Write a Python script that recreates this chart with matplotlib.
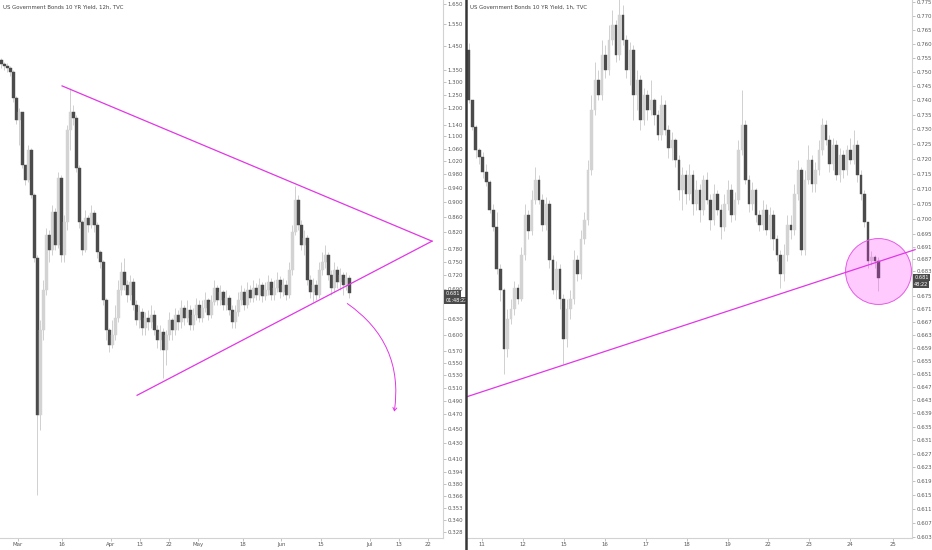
import matplotlib
matplotlib.use("Agg")
import matplotlib.pyplot as plt
from matplotlib.lines import Line2D
from matplotlib.patches import FancyArrowPatch
from matplotlib.ticker import NullLocator

# ---- left panel: 12h candles (open of each bar = previous close) ----
left_open0 = 1.390
left_close = [
    1.373, 1.364, 1.356, 1.340, 1.237, 1.157, 1.186, 1.008, 0.963, 1.055,
    0.920, 0.758, 0.469, 0.608, 0.688, 0.813, 0.777, 0.873, 0.789, 0.969,
    0.765, 0.847, 1.122, 1.186, 1.164, 0.999, 0.847, 0.777, 0.857, 0.839,
    0.870, 0.839, 0.772, 0.749, 0.667, 0.608, 0.581, 0.599, 0.631, 0.688,
    0.727, 0.698, 0.678, 0.705, 0.657, 0.627, 0.643, 0.612, 0.631, 0.623,
    0.637, 0.608, 0.590, 0.604, 0.572, 0.599, 0.627, 0.608, 0.637, 0.623,
    0.651, 0.631, 0.647, 0.617, 0.637, 0.657, 0.631, 0.651, 0.667, 0.637,
    0.663, 0.692, 0.667, 0.684, 0.657, 0.671, 0.647, 0.623, 0.643, 0.667,
    0.684, 0.657, 0.688, 0.671, 0.692, 0.678, 0.698, 0.676, 0.688, 0.705,
    0.678, 0.692, 0.709, 0.684, 0.698, 0.678, 0.731, 0.821, 0.906, 0.839,
    0.789, 0.806, 0.709, 0.684, 0.698, 0.678, 0.731, 0.749, 0.765, 0.720,
    0.692, 0.731, 0.705, 0.720, 0.698, 0.713, 0.681,
]
left_high = [
    1.399, 1.382, 1.377, 1.364, 1.348, 1.245, 1.200, 1.186, 1.008, 1.071,
    1.061, 0.925, 0.766, 0.627, 0.709, 0.831, 0.826, 0.892, 0.883, 0.987,
    0.978, 0.865, 1.139, 1.276, 1.211, 1.175, 1.008, 0.852, 0.878, 0.865,
    0.892, 0.878, 0.847, 0.777, 0.754, 0.671, 0.612, 0.627, 0.657, 0.709,
    0.749, 0.758, 0.709, 0.720, 0.713, 0.667, 0.657, 0.651, 0.643, 0.647,
    0.657, 0.647, 0.617, 0.617, 0.612, 0.608, 0.643, 0.631, 0.651, 0.647,
    0.667, 0.657, 0.667, 0.657, 0.651, 0.671, 0.667, 0.667, 0.684, 0.671,
    0.678, 0.709, 0.698, 0.698, 0.688, 0.688, 0.678, 0.657, 0.657, 0.684,
    0.698, 0.692, 0.705, 0.698, 0.709, 0.702, 0.713, 0.705, 0.705, 0.720,
    0.713, 0.709, 0.727, 0.718, 0.713, 0.709, 0.749, 0.839, 0.945, 0.920,
    0.852, 0.826, 0.813, 0.720, 0.713, 0.709, 0.749, 0.772, 0.789, 0.772,
    0.731, 0.749, 0.740, 0.736, 0.727, 0.727, 0.720,
]
left_low = [
    1.356, 1.348, 1.340, 1.324, 1.222, 1.143, 1.071, 0.999, 0.948, 0.957,
    0.911, 0.749, 0.367, 0.448, 0.590, 0.678, 0.749, 0.765, 0.777, 0.782,
    0.749, 0.749, 0.826, 1.055, 1.139, 0.987, 0.831, 0.765, 0.772, 0.821,
    0.831, 0.821, 0.758, 0.736, 0.657, 0.590, 0.568, 0.575, 0.590, 0.623,
    0.678, 0.688, 0.663, 0.667, 0.647, 0.617, 0.612, 0.599, 0.599, 0.608,
    0.612, 0.599, 0.575, 0.572, 0.525, 0.547, 0.590, 0.590, 0.599, 0.608,
    0.612, 0.617, 0.623, 0.608, 0.608, 0.627, 0.623, 0.623, 0.643, 0.627,
    0.631, 0.657, 0.657, 0.657, 0.647, 0.647, 0.637, 0.612, 0.612, 0.635,
    0.657, 0.647, 0.651, 0.663, 0.663, 0.667, 0.667, 0.663, 0.667, 0.678,
    0.667, 0.667, 0.684, 0.671, 0.676, 0.667, 0.671, 0.720, 0.813, 0.826,
    0.777, 0.765, 0.698, 0.671, 0.663, 0.667, 0.671, 0.720, 0.736, 0.709,
    0.678, 0.684, 0.692, 0.688, 0.678, 0.688, 0.671,
]
left_date_pos = [5.5, 20.2, 36.5, 46.2, 55.8, 65.5, 80.5, 93.2, 106.5, 122.8, 132.5, 142.2]
left_date_labels = ["Mar", "16", "Apr", "13", "22", "May", "18", "Jun", "15", "Jul", "13", "22"]
left_price_ticks = [1.650, 1.550, 1.450, 1.350, 1.300, 1.250, 1.200, 1.140, 1.100, 1.060,
                    1.020, 0.980, 0.940, 0.900, 0.860, 0.820, 0.780, 0.750, 0.720, 0.690,
                    0.630, 0.600, 0.570, 0.550, 0.530, 0.510, 0.490, 0.470, 0.450, 0.430,
                    0.410, 0.394, 0.380, 0.366, 0.353, 0.340, 0.328]

# ---- right panel: 1h candles ----
right_open0 = 0.7578
right_close = [
    0.7402, 0.7309, 0.7231, 0.7207, 0.7157, 0.7123, 0.7031, 0.6972, 0.6836, 0.6772,
    0.6585, 0.6678, 0.6709, 0.6778, 0.6741, 0.6884, 0.7014, 0.6959, 0.7064, 0.7130,
    0.7064, 0.6981, 0.7048, 0.6868, 0.6772, 0.6836, 0.6741, 0.6616, 0.6709, 0.6741,
    0.6868, 0.6820, 0.6933, 0.6998, 0.7164, 0.7368, 0.7472, 0.7420, 0.7560, 0.7507,
    0.7613, 0.7667, 0.7560, 0.7703, 0.7613, 0.7507, 0.7578, 0.7420, 0.7472, 0.7333,
    0.7420, 0.7368, 0.7402, 0.7350, 0.7282, 0.7385, 0.7299, 0.7238, 0.7265, 0.7197,
    0.7097, 0.7147, 0.7081, 0.7147, 0.7048, 0.7097, 0.7031, 0.7130, 0.7064, 0.6998,
    0.7081, 0.7031, 0.6972, 0.7048, 0.7097, 0.7014, 0.7064, 0.7231, 0.7316, 0.7130,
    0.7048, 0.7097, 0.7014, 0.6981, 0.7031, 0.6965, 0.7014, 0.6933, 0.6884, 0.6820,
    0.6884, 0.6981, 0.6965, 0.7081, 0.7164, 0.6900, 0.7130, 0.7197, 0.7114, 0.7164,
    0.7231, 0.7316, 0.7265, 0.7181, 0.7248, 0.7147, 0.7214, 0.7164, 0.7231, 0.7197,
    0.7248, 0.7147, 0.7081, 0.6991, 0.6862, 0.6875, 0.6862, 0.6810,
]
right_high = [
    0.7602, 0.7402, 0.7316, 0.7238, 0.7224, 0.7181, 0.7130, 0.7048, 0.7024, 0.6852,
    0.6778, 0.6709, 0.6741, 0.6798, 0.6791, 0.6907, 0.7048, 0.7031, 0.7097, 0.7171,
    0.7147, 0.7081, 0.7071, 0.7064, 0.6884, 0.6862, 0.6852, 0.6757, 0.6741, 0.6772,
    0.6900, 0.6884, 0.6965, 0.7024, 0.7197, 0.7420, 0.7535, 0.7507, 0.7613, 0.7595,
    0.7667, 0.7721, 0.7685, 0.7775, 0.7739, 0.7631, 0.7606, 0.7595, 0.7507, 0.7489,
    0.7444, 0.7437, 0.7472, 0.7409, 0.7368, 0.7420, 0.7402, 0.7316, 0.7292, 0.7272,
    0.7214, 0.7171, 0.7164, 0.7181, 0.7164, 0.7130, 0.7114, 0.7147, 0.7157, 0.7081,
    0.7114, 0.7097, 0.7048, 0.7081, 0.7130, 0.7114, 0.7090, 0.7265, 0.7437, 0.7333,
    0.7147, 0.7123, 0.7103, 0.7031, 0.7064, 0.7048, 0.7038, 0.7031, 0.6949, 0.6900,
    0.6917, 0.7014, 0.7014, 0.7114, 0.7197, 0.7171, 0.7164, 0.7248, 0.7214, 0.7191,
    0.7265, 0.7340, 0.7333, 0.7282, 0.7272, 0.7265, 0.7238, 0.7231, 0.7248, 0.7272,
    0.7299, 0.7265, 0.7164, 0.7097, 0.6991, 0.6894, 0.6884, 0.6875,
]
right_low = [
    0.7392, 0.7299, 0.7204, 0.7181, 0.7137, 0.7110, 0.7018, 0.6959, 0.6820, 0.6735,
    0.6508, 0.6560, 0.6662, 0.6693, 0.6725, 0.6735, 0.6868, 0.6933, 0.6946, 0.7048,
    0.7048, 0.6959, 0.6965, 0.6842, 0.6757, 0.6741, 0.6709, 0.6539, 0.6591, 0.6678,
    0.6725, 0.6798, 0.6804, 0.6917, 0.6981, 0.7147, 0.7350, 0.7402, 0.7402, 0.7479,
    0.7489, 0.7595, 0.7535, 0.7542, 0.7595, 0.7479, 0.7454, 0.7333, 0.7368, 0.7299,
    0.7316, 0.7333, 0.7350, 0.7316, 0.7265, 0.7265, 0.7282, 0.7204, 0.7197, 0.7171,
    0.7064, 0.7031, 0.7048, 0.7064, 0.7014, 0.7031, 0.6991, 0.7014, 0.7048, 0.6965,
    0.6981, 0.7014, 0.6933, 0.6959, 0.7031, 0.6991, 0.6998, 0.7048, 0.7214, 0.7114,
    0.7024, 0.7031, 0.6991, 0.6959, 0.6965, 0.6949, 0.6933, 0.6900, 0.6862, 0.6778,
    0.6798, 0.6862, 0.6933, 0.6949, 0.7064, 0.6884, 0.6884, 0.7114, 0.7090, 0.7090,
    0.7147, 0.7214, 0.7248, 0.7157, 0.7164, 0.7130, 0.7123, 0.7137, 0.7147, 0.7181,
    0.7181, 0.7123, 0.7064, 0.6972, 0.6842, 0.6849, 0.6842, 0.6766,
]
right_date_pos = [3.8, 15.5, 27.2, 38.9, 50.6, 62.4, 74.1, 85.5, 97.2, 108.9, 121.2]
right_date_labels = ["11", "12", "15", "16", "17", "18", "19", "22", "23", "24", "25"]
right_price_ticks = [0.775, 0.770, 0.765, 0.760, 0.755, 0.750, 0.745, 0.740, 0.735, 0.730,
                     0.725, 0.720, 0.715, 0.710, 0.705, 0.700, 0.695, 0.691, 0.687, 0.683,
                     0.675, 0.671, 0.667, 0.663, 0.659, 0.655, 0.651, 0.647, 0.643, 0.639,
                     0.635, 0.631, 0.627, 0.623, 0.619, 0.615, 0.611, 0.607, 0.603]

last_price = 0.681

# drawings (bar index, price)
left_upper_line = [(20.2, 1.284), (143.5, 0.7985)]
left_lower_line = [(45.2, 0.4983), (143.5, 0.7985)]
left_arrow = [(114.5, 0.663), (130.8, 0.470)]
right_support = [(-0.5, 0.6440), (127.5, 0.6900)]
right_circle = (116.9, 0.683)

DARK = "#4b4b4b"
LIGHT = "#d3d3d3"
WICK = "#c9c9c9"
PINK = "#e236e6"
TEXT = "#5a5a5a"
FS = 3.9


def draw_candles(ax, open0, closes, highs, lows, width=0.72):
    opens = [open0] + closes[:-1]
    xs = list(range(len(closes)))
    ax.vlines(xs, lows, highs, color=WICK, linewidth=0.6, zorder=1)
    bottoms = [min(o, c) for o, c in zip(opens, closes)]
    heights = [abs(c - o) for o, c in zip(opens, closes)]
    colors = [LIGHT if c >= o else DARK for o, c in zip(opens, closes)]
    ax.bar(xs, heights, bottom=bottoms, width=width, color=colors,
           edgecolor=colors, linewidth=0.3, zorder=2)


def style_axis(ax, ylim, xlim, price_ticks, date_pos, date_labels):
    ax.set_yscale("log")
    ax.set_ylim(*ylim)
    ax.set_xlim(*xlim)
    ax.yaxis.tick_right()
    ax.set_yticks(price_ticks)
    ax.set_yticklabels(["%.3f" % v for v in price_ticks])
    ax.yaxis.set_minor_locator(NullLocator())
    ax.set_xticks(date_pos)
    ax.set_xticklabels(date_labels)
    for side in ("top", "left"):
        ax.spines[side].set_visible(False)
    for side in ("right", "bottom"):
        ax.spines[side].set_color("#d2d2d2")
        ax.spines[side].set_linewidth(0.8)
    ax.tick_params(axis="both", labelsize=FS, labelcolor=TEXT, color="#aaaaaa",
                   length=2, width=0.5, pad=1.2)


def price_box(ax, price, timer):
    tr = ax.get_yaxis_transform()
    box = dict(boxstyle="square,pad=0.2", fc="#4a4a4a", ec="none")
    ax.text(1.005, price, "%.3f" % price, transform=tr, fontsize=3.6, color="white",
            va="center", ha="left", bbox=box, zorder=10, clip_on=False)
    ax.annotate(timer, xy=(1.005, price), xycoords=tr, xytext=(0, -5.0),
                textcoords="offset points", fontsize=3.6, color="white",
                va="center", ha="left", bbox=box, zorder=10, annotation_clip=False)


fig = plt.figure(figsize=(9.32, 5.5), dpi=100)
axl = fig.add_axes([0, 12 / 550, 443 / 932, 538 / 550])
axr = fig.add_axes([467 / 932, 12 / 550, 445 / 932, 538 / 550])

draw_candles(axl, left_open0, left_close, left_high, left_low)
style_axis(axl, (0.322, 1.670), (-0.5, 147.17), left_price_ticks, left_date_pos, left_date_labels)

draw_candles(axr, right_open0, right_close, right_high, right_low)
style_axis(axr, (0.6027, 0.7757), (-0.5, 126.6), right_price_ticks, right_date_pos, right_date_labels)

# triangle on the 12h chart
for line in (left_upper_line, left_lower_line):
    axl.plot([p[0] for p in line], [p[1] for p in line], color=PINK, lw=0.9, zorder=5)
arrow = FancyArrowPatch(left_arrow[0], left_arrow[1], connectionstyle="arc3,rad=-0.32",
                        arrowstyle="->,head_length=2.2,head_width=1.4", color=PINK,
                        lw=0.7, zorder=5)
axl.add_patch(arrow)

# support line and highlight on the 1h chart
axr.plot([p[0] for p in right_support], [p[1] for p in right_support], color=PINK, lw=0.9,
         zorder=5, clip_on=False)
axr.scatter([right_circle[0]], [right_circle[1]], s=2250, facecolor=(1.0, 0.2, 1.0, 0.25),
            edgecolor="#e45ae4", linewidth=0.7, zorder=4, clip_on=False)

price_box(axl, last_price, "01:48:22")
price_box(axr, last_price, "48:22")

fig.text(3 / 932, 1 - 7 / 550, "US Government Bonds 10 YR Yield, 12h, TVC",
         fontsize=FS, color="#444444", va="center")
fig.text(470 / 932, 1 - 7 / 550, "US Government Bonds 10 YR Yield, 1h, TVC",
         fontsize=FS, color="#444444", va="center")

fig.add_artist(Line2D([466 / 932, 466 / 932], [0, 1], transform=fig.transFigure,
                      color="#363636", lw=1.8))

fig.savefig("out.png", dpi=100, facecolor="white")
